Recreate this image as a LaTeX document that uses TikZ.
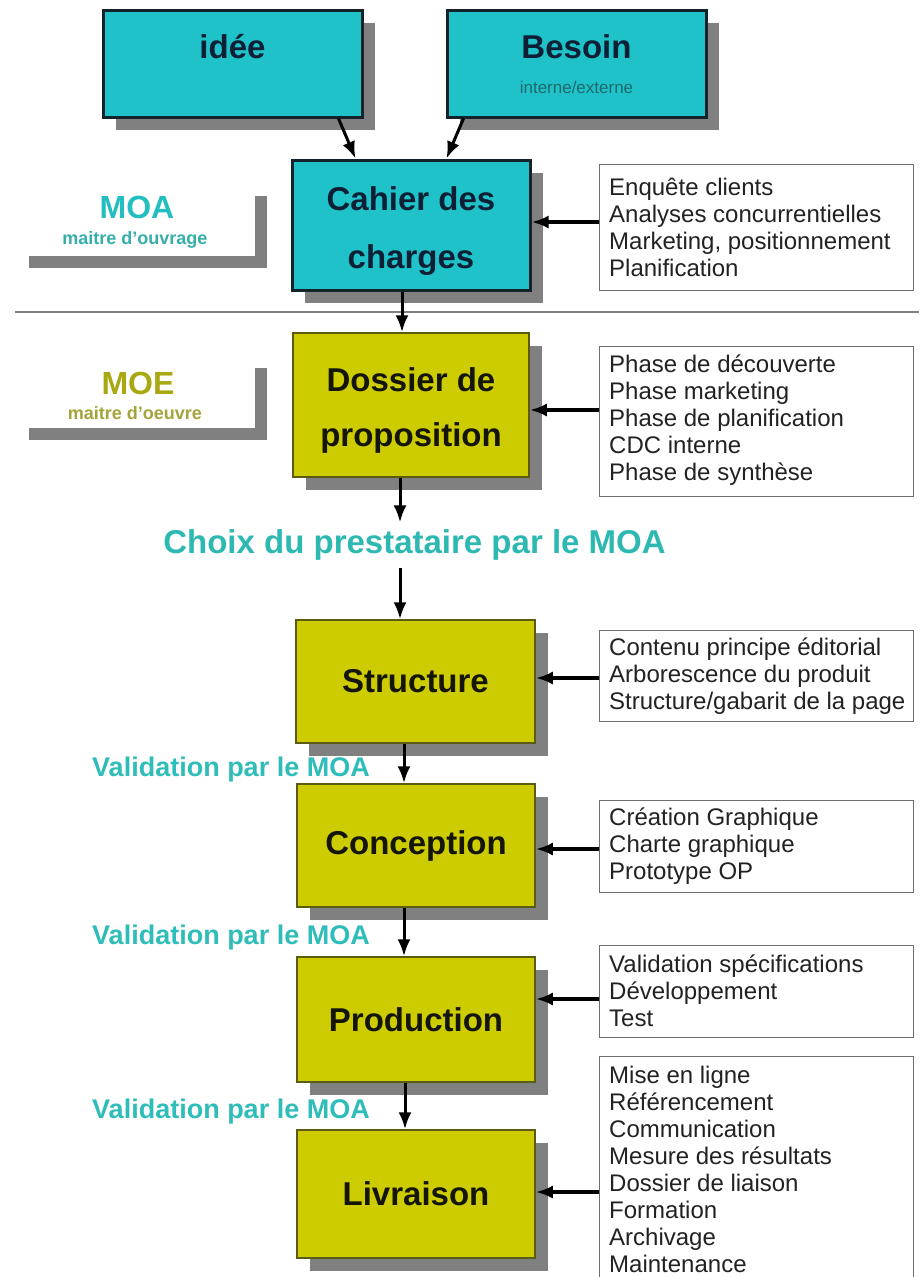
\documentclass[tikz,border=0pt]{standalone}
\usepackage{fontspec}
\setmainfont{Liberation Sans}
\usetikzlibrary{shadows,arrows.meta}
\definecolor{cyanfill}{HTML}{1EC2C8}
\definecolor{cyanborder}{HTML}{142329}
\definecolor{yelfill}{HTML}{CCCC00}
\definecolor{yelborder}{HTML}{5A5A10}
\definecolor{shadowgray}{HTML}{808080}
\definecolor{navytext}{HTML}{0C1F35}
\definecolor{darktext}{HTML}{151505}
\definecolor{subtext}{HTML}{1F6A6E}
\definecolor{infoborder}{HTML}{6E6E6E}
\definecolor{infotext}{HTML}{222222}
\definecolor{moacyan}{HTML}{22BEC0}
\definecolor{moasub}{HTML}{35AFAA}
\definecolor{moeolive}{HTML}{A8A810}
\definecolor{moesub}{HTML}{A4A43A}
\definecolor{choixcol}{HTML}{2DB9B2}
\definecolor{validcol}{HTML}{2FBDBA}
\begin{document}
\begin{tikzpicture}[x=1pt,y=-1pt,
  shadowed/.style={drop shadow={shadow xshift=13pt,shadow yshift=-13pt,fill=shadowgray,opacity=1,draw=none}},
  cyanbox/.style={draw=cyanborder,line width=3pt,fill=cyanfill,shadowed,inner sep=0pt,align=center,
    font=\fontsize{33}{58}\selectfont\bfseries,text=navytext},
  yelbox/.style={draw=yelborder,line width=1.5pt,fill=yelfill,shadowed,inner sep=0pt,align=center,
    font=\fontsize{33}{55}\selectfont\bfseries,text=darktext},
  boxlabel/.style={inner sep=0pt,font=\fontsize{33}{33}\selectfont\bfseries,text=navytext},
  infobox/.style={draw=infoborder,line width=1.3pt,fill=white,inner sep=0pt,anchor=north west,minimum width=314pt},
  infotxt/.style={inner sep=0pt,anchor=west,align=left,font=\fontsize{24}{27}\selectfont,text=infotext},
  rolebig/.style={inner sep=0pt,font=\fontsize{32}{32}\selectfont\bfseries},
  rolesmall/.style={inner sep=0pt,font=\fontsize{18}{18}\selectfont\bfseries},
  validlbl/.style={inner sep=0pt,font=\fontsize{27}{27}\selectfont\bfseries,text=validcol},
  arr/.style={line width=3pt,-{Latex[length=17pt,width=13pt]}},
  harr/.style={line width=4pt,-{Latex[length=17pt,width=13pt]}},
  sepline/.style={draw=shadowgray,line width=1.5pt},
]
\path[use as bounding box,fill=white] (0,0) rectangle (919,1277);

% separation line
\draw[sepline] (15,312) -- (919,312);

% role markers (L-shaped shadows)
\fill[shadowgray] (255,196) rectangle (267,268);
\fill[shadowgray] (29,256) rectangle (267,268);
\fill[shadowgray] (255,368) rectangle (267,440);
\fill[shadowgray] (29,428) rectangle (267,440);
\node[rolebig,text=moacyan] (moa) at (137,207) {MOA};
\node[rolesmall,text=moasub] (moasub) at (135,240) {maitre d'ouvrage};
\node[rolebig,text=moeolive] (moe) at (138,383) {MOE};
\node[rolesmall,text=moesub] (moesub) at (135,413) {maitre d'oeuvre};

% top boxes
\node[cyanbox,minimum width=259pt,minimum height=107pt] (idee) at (232.5,63.5) {};
\node[boxlabel] (ideet) at (232.5,47) {idée};
\node[cyanbox,minimum width=259pt,minimum height=107pt] (besoin) at (576.5,63.5) {};
\node[boxlabel] (besoint) at (576.5,47) {Besoin};
\node[inner sep=0pt,font=\fontsize{17}{17}\selectfont,text=subtext] (besoins) at (576.5,87) {interne/externe};

% main chain
\node[cyanbox,minimum width=238pt,minimum height=130pt] (cahier) at (411,225) {\raisebox{-6pt}[\height][\depth]{\parbox{230pt}{\centering Cahier des\\charges}}};
\node[yelbox,minimum width=236pt,minimum height=144pt] (dossier) at (411,405) {\raisebox{-5pt}[\height][\depth]{\parbox{230pt}{\centering Dossier de\\proposition}}};
\node[inner sep=0pt,inner ysep=7pt,font=\fontsize{33}{33}\selectfont\bfseries,text=choixcol] (choix) at (414.5,545) {Choix du prestataire par le MOA};
\node[yelbox,minimum width=239pt,minimum height=123pt] (structure) at (415.5,681.5) {Structure};
\node[yelbox,minimum width=238pt,minimum height=123pt] (conception) at (416,845.5) {Conception};
\node[yelbox,minimum width=238pt,minimum height=125pt] (production) at (416,1019.5) {Production};
\node[yelbox,minimum width=238pt,minimum height=128pt] (livraison) at (416,1194) {Livraison};

\node[validlbl] (val1) at (231,770) {Validation par le MOA};
\node[validlbl] (val2) at (231,938) {Validation par le MOA};
\node[validlbl] (val3) at (231,1112) {Validation par le MOA};

% info boxes
\node[infobox,minimum height=126pt] (info1) at (599,164) {};
\node[infotxt] (info1t) at (609,227) {Enquête clients\\Analyses concurrentielles\\Marketing, positionnement\\Planification};
\node[infobox,minimum height=150pt] (info2) at (599,346) {};
\node[infotxt] (info2t) at (609,420) {Phase de découverte\\Phase marketing\\Phase de planification\\CDC interne\\Phase de synthèse};
\node[infobox,minimum height=91pt] (info3) at (599,630) {};
\node[infotxt] (info3t) at (609,676) {Contenu principe éditorial\\Arborescence du produit\\Structure/gabarit de la page};
\node[infobox,minimum height=92pt] (info4) at (599,800) {};
\node[infotxt] (info4t) at (609,846) {Création Graphique\\Charte graphique\\Prototype OP};
\node[infobox,minimum height=92pt] (info5) at (599,945) {};
\node[infotxt] (info5t) at (609,991) {Validation spécifications\\Développement\\Test};
\node[infobox,minimum height=240pt] (info6) at (599,1056) {};
\node[infotxt] (info6t) at (609,1169) {Mise en ligne\\Référencement\\Communication\\Mesure des résultats\\Dossier de liaison\\Formation\\Archivage\\Maintenance};

% arrow levels
\coordinate (ax1) at (402,0);
\coordinate (ax2) at (400,0);
\coordinate (ax3) at (404,0);
\coordinate (ax4) at (405,0);
\coordinate (ya1) at (0,222);
\coordinate (ya2) at (0,410);
\coordinate (ya3) at (0,678);
\coordinate (ya4) at (0,849);
\coordinate (ya5) at (0,999);
\coordinate (ya6) at (0,1192);

% connectors
\draw[arr] ([xshift=-25pt]idee.south east) -- ([xshift=65pt]cahier.north west);
\draw[arr] ([xshift=18pt]besoin.south west) -- ([xshift=-85pt]cahier.north east);
\draw[arr] (cahier.south -| ax1) -- (dossier.north -| ax1);
\draw[arr] (dossier.south -| ax2) -- (choix.north -| ax2);
\draw[arr] (choix.south -| ax2) -- (structure.north -| ax2);
\draw[arr] (structure.south -| ax3) -- (conception.north -| ax3);
\draw[arr] (conception.south -| ax3) -- (production.north -| ax3);
\draw[arr] (production.south -| ax4) -- (livraison.north -| ax4);

\draw[harr] (info1.west |- ya1) -- (cahier.east |- ya1);
\draw[harr] (info2.west |- ya2) -- (dossier.east |- ya2);
\draw[harr] (info3.west |- ya3) -- (structure.east |- ya3);
\draw[harr] (info4.west |- ya4) -- (conception.east |- ya4);
\draw[harr] (info5.west |- ya5) -- (production.east |- ya5);
\draw[harr] (info6.west |- ya6) -- (livraison.east |- ya6);
\end{tikzpicture}
\end{document}
